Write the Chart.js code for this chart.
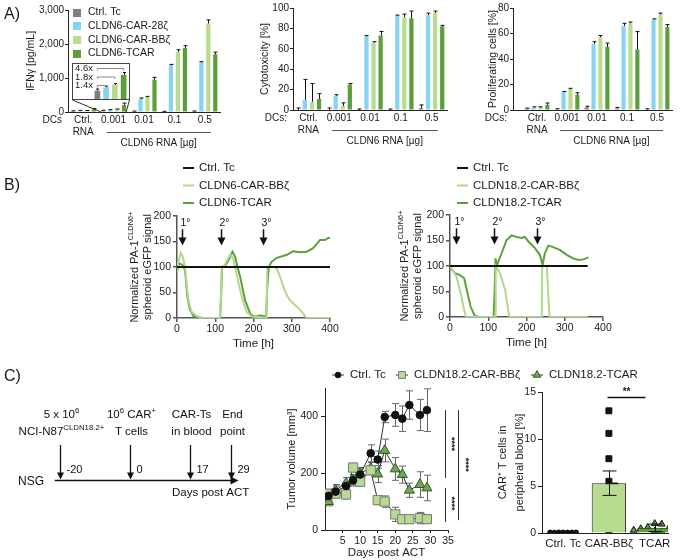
<!DOCTYPE html>
<html>
<head>
<meta charset="utf-8">
<title>CLDN6 / CLDN18.2 CAR-T figure</title>
<script src="https://cdn.jsdelivr.net/npm/chart.js@4.4.1/dist/chart.umd.min.js"></script>
<style>
  body { margin: 0; background: #fff; }
  #fig { position: relative; width: 680px; height: 560px; overflow: hidden;
         font-family: "Liberation Sans", Arial, sans-serif; color: #1a1a1a; }
  #fig canvas { position: absolute; }
  .tag { position: absolute; font-size: 16px; line-height: 18px; }
</style>
</head>
<body>
<div id="fig">
  <canvas id="ifn" width="225" height="150" style="left:0;top:0"></canvas>
  <canvas id="cyto" width="220" height="150" style="left:230px;top:0"></canvas>
  <canvas id="prolif" width="230" height="150" style="left:450px;top:0"></canvas>
  <canvas id="inset" width="58" height="37"></canvas>
  <canvas id="kinL" width="240" height="200" style="left:100px;top:160px"></canvas>
  <canvas id="kinR" width="250" height="200" style="left:370px;top:160px"></canvas>
  <canvas id="scheme" width="260" height="140" style="left:0;top:380px"></canvas>
  <canvas id="tumor" width="370" height="195" style="left:270px;top:365px"></canvas>
  <canvas id="blood" width="200" height="180" style="left:480px;top:380px"></canvas>
  <div class="tag" style="left:4px;top:5px">A)</div>
  <div class="tag" style="left:4px;top:176px">B)</div>
  <div class="tag" style="left:4px;top:367px">C)</div>
</div>
<script>
// ---------- A) activation read-outs ----------
const doseLabels = [['Ctrl.', 'RNA'], '0.001', '0.01', '0.1', '0.5'];
const carNames = ['Ctrl. Tc', 'CLDN6-CAR-28ζ', 'CLDN6-CAR-BBζ', 'CLDN6-TCAR'];
const carColors = ['#7f7f7f', '#86d3f3', '#b8dc8f', '#5c9e3c'];

// one row per series, one column per dose
const ifnMean = [
  [25, 45, 20, 15, 20],
  [40, 62, 380, 1370, 1460],
  [35, 81, 430, 1760, 2600],
  [80, 207, 950, 1880, 1700]
];
const ifnErr = [
  [10, 8, 8, 5, 10],
  [10, 8, 30, 30, 20],
  [10, 8, 30, 70, 110],
  [20, 55, 70, 70, 60]
];
const ifnTicks = [0, 1000, 2000, 3000];

const cytoMean = [
  [0, 0, 0, 0, 2],
  [10, 14, 72, 92, 93],
  [8, 4, 66, 91, 95],
  [11, 25, 73, 90, 82]
];
const cytoErr = [
  [2, 2, 1, 1, 3],
  [20, 1, 1, 1, 2],
  [18, 3, 1, 3, 2],
  [5, 1, 4, 7, 1]
];
const cytoTicks = [0, 20, 40, 60, 80, 100];

const prolifMean = [
  [1, 0.5, 2, 1, 0.5],
  [2, 14, 52, 66, 71],
  [2, 16.5, 57, 68, 75],
  [4, 12, 49.5, 47.5, 65]
];
const prolifErr = [
  [0.5, 0.5, 1, 1, 0.5],
  [0.5, 0.5, 1.5, 2, 0.5],
  [0.5, 0.5, 1.5, 1, 1],
  [1.5, 1.5, 3, 14, 2]
];
const prolifTicks = [0, 20, 40, 60, 80];

// ---------- B) spheroid killing kinetics ----------
const kinTicksX = [0, 100, 200, 300, 400];
const kinTicksY = [0, 50, 100, 150, 200];
const stimLabels = ['1°', '2°', '3°'];
const stimLeft = [12, 115, 226];
const stimRight = [15, 115, 227];

const l6TcT = [0, 400];
const l6TcV = [100, 100];
const l6BbT = [0, 4, 10, 15, 21, 26, 30, 38, 51, 69, 112, 115, 117, 125, 132, 139, 147, 156, 165, 174, 182, 195, 234, 236, 250, 260, 270, 278, 287, 295, 305, 313, 322, 339, 400];
const l6BbV = [88, 110, 128, 120, 100, 60, 35, 12, 4, 0, 0, 40, 100, 104, 115, 124, 117, 85, 55, 30, 12, 3, 0, 100, 101, 98, 80, 61, 45, 35, 28, 22, 16, 0, 0];
const l6TcarT = [0, 6, 15, 21, 27, 34, 43, 56, 113, 116, 118, 125, 132, 139, 145, 152, 158, 165, 178, 191, 200, 210, 217, 226, 233, 236, 240, 247, 261, 275, 287, 304, 322, 339, 356, 365, 374, 387, 395, 400];
const l6TcarV = [91, 107, 104, 94, 42, 16, 4, 0, 0, 60, 100, 102, 110, 120, 130, 120, 100, 81, 35, 9, 3, 4, 5, 4, 3, 60, 100, 110, 118, 121, 124, 131, 129, 130, 137, 145, 153, 153, 157, 157];

const r18TcT = [0, 360];
const r18TcV = [100, 100];
const r18BbT = [0, 9, 17, 28, 37, 42, 118, 119, 120, 131, 144, 155, 240, 241, 253, 260, 360];
const r18BbV = [100, 89, 79, 46, 14, 0, 0, 50, 100, 86, 53, 0, 0, 100, 100, 0, 0];
const r18TcarT = [0, 13, 26, 37, 44, 54, 65, 78, 114, 117, 119, 122, 128, 135, 148, 161, 174, 187, 196, 205, 222, 235, 242, 248, 257, 270, 288, 305, 322, 336, 349, 362];
const r18TcarV = [97, 86, 82, 76, 53, 20, 2, 0, 0, 60, 115, 100, 112, 125, 151, 160, 157, 155, 157, 148, 135, 122, 102, 125, 140, 137, 131, 122, 115, 112, 113, 117];

// ---------- C) in vivo ----------
const schemeDays = [-20, 0, 17, 29];
const schemeStart = -21.5, schemeEnd = 31;
const schemeText = [
  [[['5 x 10', 0], ['6', 1]], [['NCI-N87', 0], ['CLDN18.2+', 1]]],
  [[['10', 0], ['6', 1], [' CAR', 0], ['+', 1]], [['T cells', 0]]],
  [[['CAR-Ts', 0]], [['in blood', 0]]],
  [[['End', 0]], [['point', 0]]]
];

const tumorDays = [1, 3, 6, 8, 10, 13, 15, 17, 20, 22, 24, 27, 29];
const tcMean = [120, 135, 155, 175, 195, 270, 248, 398, 405, 392, 440, 405, 422];
const tcSem = [15, 20, 15, 15, 20, 30, 30, 20, 40, 45, 50, 55, 75];
const bbMean = [128, 128, 125, 220, 170, 210, 105, 100, 55, 38, 38, 42, 38];
const bbSem = [15, 15, 15, 15, 15, 15, 15, 20, 25, 15, 15, 20, 15];
const tcarMean = [100, 140, 165, 175, 200, 218, 197, 280, 215, 195, 140, 160, 148];
const tcarSem = [15, 20, 20, 20, 20, 20, 30, 40, 40, 30, 25, 45, 45];
const tumorTicksX = [5, 10, 15, 20, 25, 30, 35];
const tumorTicksY = [0, 200, 400];

const bloodCats = ['Ctrl. Tc', 'CAR-BBζ', 'TCAR'];
const bloodMean = [0.05, 5.3, 0.55];
const bloodSem = [0.01, 1.3, 0.4];
const bloodCtrl = [0.05, 0.04, 0.06, 0.05, 0.03, 0.05, 0.06];
const bloodBb = [13.0, 10.6, 7.9, 5.5, 5.0, 3.4, 2.4, 1.6, 0.1];
const bloodTcar = [1.0, 0.95, 0.6, 0.5, 0.45, 0.4, 0.3, 0.2, 0.1];
const bloodTicks = [0, 5, 10, 15];

// ---------- shared helpers ----------
const FONT = '"Liberation Sans", Arial, sans-serif';
const INK = '#1a1a1a';
const AXIS = '#222';
const AXIS_B = '#555';
const LGREEN = '#b3d88b', DGREEN = '#5d9f3d';

Chart.defaults.font.family = FONT;
Chart.defaults.font.size = 10;
Chart.defaults.color = INK;
Chart.defaults.plugins.legend.display = false;
Chart.defaults.plugins.tooltip.enabled = false;

function baseOptions(extra) {
  return Object.assign({responsive: false, devicePixelRatio: 1, animation: false, events: []}, extra);
}

function richText(ctx, parts, x, y, size, align) {
  let w = 0;
  parts.forEach(([t, sup]) => {
    ctx.font = (sup ? size * 0.68 : size) + 'px ' + FONT;
    w += ctx.measureText(t).width;
  });
  let cx = align === 'center' ? x - w / 2 : align === 'right' ? x - w : x;
  ctx.textAlign = 'left';
  ctx.textBaseline = 'middle';
  parts.forEach(([t, sup]) => {
    ctx.font = (sup ? size * 0.68 : size) + 'px ' + FONT;
    ctx.fillText(t, cx, sup ? y - size * 0.38 : y);
    cx += ctx.measureText(t).width;
  });
}

function marker(ctx, style, x, y, r, fill, stroke) {
  ctx.beginPath();
  if (style === 'circle') ctx.arc(x, y, r, 0, Math.PI * 2);
  else if (style === 'rect') { const h = r * Math.SQRT1_2; ctx.rect(x - h, y - h, 2 * h, 2 * h); }
  else { ctx.moveTo(x, y - r); ctx.lineTo(x + r * 0.866, y + r * 0.5); ctx.lineTo(x - r * 0.866, y + r * 0.5); ctx.closePath(); }
  ctx.fillStyle = fill; ctx.fill();
  ctx.strokeStyle = stroke; ctx.lineWidth = 1; ctx.stroke();
}

const errorBars = {
  id: 'errorBars',
  draw(chart, o) {
    const {ctx} = chart;
    const ys = chart.scales.y;
    ctx.save();
    ctx.strokeStyle = o.color || '#111';
    ctx.lineWidth = 1;
    o.errs.forEach((errs, di) => {
      if (!errs) return;
      const meta = chart.getDatasetMeta(di);
      meta.data.forEach((el, i) => {
        const raw = chart.data.datasets[di].data[i];
        const v = typeof raw === 'object' ? raw.y : raw;
        const x = Math.round(el.x) + 0.5;
        const top = ys.getPixelForValue(v + errs[i]);
        const bot = o.both ? ys.getPixelForValue(v - errs[i]) : ys.getPixelForValue(v);
        ctx.beginPath();
        ctx.moveTo(x, bot); ctx.lineTo(x, top);
        ctx.moveTo(x - o.cap, top); ctx.lineTo(x + o.cap, top);
        if (o.both) { ctx.moveTo(x - o.cap, bot); ctx.lineTo(x + o.cap, bot); }
        ctx.stroke();
      });
    });
    ctx.restore();
  },
  beforeDatasetsDraw(chart, args, o) { if (o.errs && o.under) this.draw(chart, o); },
  afterDatasetsDraw(chart, args, o) { if (o.errs && !o.under) this.draw(chart, o); }
};

// DCs label, bracket and "CLDN6 RNA [µg]" under the dose groups
const doseNote = {
  id: 'doseNote',
  afterDraw(chart, args, o) {
    const {ctx, chartArea: a, scales: {x}} = chart;
    ctx.save();
    ctx.font = '10px ' + FONT;
    ctx.fillStyle = INK;
    ctx.textBaseline = 'middle';
    ctx.textAlign = 'right';
    ctx.fillText(o.dcs, a.left - 6, a.bottom + 8);
    const y = Math.round(a.bottom + 20) + 0.5;
    ctx.strokeStyle = '#555';
    ctx.lineWidth = 1;
    ctx.beginPath();
    ctx.moveTo(x.getPixelForValue(0.77), y);
    ctx.lineTo(x.getPixelForValue(4.2), y);
    ctx.stroke();
    ctx.textAlign = 'center';
    ctx.fillText('CLDN6 RNA [µg]', x.getPixelForValue(2.48), y + 11);
    ctx.restore();
  }
};

const swatchLegend = {
  id: 'swatchLegend',
  afterDraw(chart, args, o) {
    const {ctx} = chart;
    ctx.save();
    ctx.font = '10.5px ' + FONT;
    ctx.textBaseline = 'middle';
    ctx.textAlign = 'left';
    chart.data.datasets.forEach((ds, i) => {
      const y = o.y + i * o.step;
      ctx.fillStyle = ds.backgroundColor;
      ctx.fillRect(o.x, Math.round(y - 4), 8, 8);
      ctx.fillStyle = INK;
      ctx.fillText(ds.label, o.x + 15, y);
    });
    ctx.restore();
  }
};

const insetBox = {left: 72, top: 63, w: 58, h: 37};

const insetLink = {
  id: 'insetLink',
  afterDraw(chart, args, o) {
    const {ctx, scales: {y}} = chart;
    const g = chart.getDatasetMeta(0).data[o.index];
    const d = chart.getDatasetMeta(3).data[o.index];
    const y0 = y.getPixelForValue(0);
    ctx.save();
    ctx.strokeStyle = '#333';
    ctx.lineWidth = 1;
    ctx.beginPath();
    ctx.moveTo(insetBox.left + 0.5, insetBox.top + insetBox.h);
    ctx.lineTo(g.x - g.width / 2, y0);
    ctx.moveTo(insetBox.left + insetBox.w - 0.5, insetBox.top + insetBox.h);
    ctx.lineTo(d.x + d.width / 2, y0);
    ctx.stroke();
    ctx.restore();
  }
};

function dosePanel(id, o) {
  return new Chart(document.getElementById(id), {
    type: 'bar',
    data: {
      datasets: carNames.map((name, s) => ({
        label: name,
        data: o.mean[s].map((v, i) => ({x: i, y: v})),
        backgroundColor: carColors[s],
        categoryPercentage: 0.92,
        barPercentage: 0.6
      }))
    },
    options: baseOptions({
      layout: {padding: {left: 0, top: o.top, right: o.right, bottom: 0}},
      scales: {
        x: {
          type: 'linear', offset: false, min: o.xMin, max: 4.5,
          afterBuildTicks: s => { s.ticks = doseLabels.map((_, i) => ({value: i})); },
          afterFit: s => { s.height = o.xh; },
          grid: {display: false, drawTicks: false, offset: false},
          border: {color: AXIS, width: 1},
          ticks: {callback: (v, i) => doseLabels[i], padding: 2, maxRotation: 0, autoSkip: false, font: {size: 10}}
        },
        y: {
          min: 0, max: o.ticks[o.ticks.length - 1],
          afterBuildTicks: s => { s.ticks = o.ticks.map(v => ({value: v})); },
          afterFit: s => { s.width = o.yw; },
          grid: {drawOnChartArea: false, tickLength: 3, color: AXIS},
          border: {color: AXIS},
          ticks: {padding: 1, font: {size: 10}},
          title: {display: true, text: o.title, font: {size: 10.5}, padding: {top: o.titlePad}}
        }
      },
      plugins: Object.assign({errorBars: {errs: o.err, cap: 2}, doseNote: {dcs: o.dcs}}, o.plugOpts || {})
    }),
    plugins: [errorBars, doseNote].concat(o.extra || [])
  });
}

// ---------- A) charts ----------
dosePanel('ifn', {
  mean: ifnMean, err: ifnErr, ticks: ifnTicks, title: 'IFNγ [pg/mL]', titlePad: 25,
  top: 10, right: 5, xh: 38, yw: 68, xMin: -0.5, dcs: 'DCs',
  plugOpts: {swatchLegend: {x: 73, y: 12.5, step: 13.7}, insetLink: {index: 1}},
  extra: [swatchLegend, insetLink]
});
dosePanel('cyto', {
  mean: cytoMean, err: cytoErr, ticks: cytoTicks, title: 'Cytotoxicity [%]', titlePad: 29,
  top: 8, right: 3, xh: 40, yw: 63, xMin: -0.5, dcs: 'DCs:'
});
dosePanel('prolif', {
  mean: prolifMean, err: prolifErr, ticks: prolifTicks, title: 'Proliferating cells [%]', titlePad: 37,
  top: 8, right: 8, xh: 40, yw: 63, xMin: -0.8, dcs: 'DCs:'
});

// inset: the 0.001 µg group on a log axis, with fold changes over Ctrl. Tc
const insetFrame = {
  id: 'insetFrame',
  afterDraw(chart) {
    const {ctx} = chart;
    ctx.save();
    ctx.strokeStyle = '#444';
    ctx.lineWidth = 1;
    ctx.strokeRect(0.5, 0.5, chart.width - 1, chart.height - 1);
    const base = chart.getDatasetMeta(0).data[0];
    const ref = chart.data.datasets[0].data[0];
    ctx.font = '9.5px ' + FONT;
    ctx.textBaseline = 'middle';
    ctx.textAlign = 'left';
    [3, 2, 1].forEach((s, k) => {
      const el = chart.getDatasetMeta(s).data[0];
      const y = 5.5 + k * 8.5;
      ctx.strokeStyle = '#888';
      ctx.beginPath();
      ctx.moveTo(base.x, y + 2); ctx.lineTo(base.x, y); ctx.lineTo(el.x, y); ctx.lineTo(el.x, y + 2);
      ctx.stroke();
      ctx.fillStyle = INK;
      ctx.fillText((chart.data.datasets[s].data[0] / ref).toFixed(1) + 'x', 3, y);
    });
    ctx.restore();
  }
};
const insetEl = document.getElementById('inset');
insetEl.style.left = insetBox.left + 'px';
insetEl.style.top = insetBox.top + 'px';
new Chart(insetEl, {
  type: 'bar',
  data: {
    labels: [doseLabels[1]],
    datasets: carNames.map((name, s) => ({
      label: name, data: [ifnMean[s][1]], backgroundColor: carColors[s],
      categoryPercentage: 1, barPercentage: 0.65
    }))
  },
  options: baseOptions({
    layout: {padding: {left: 21, right: 2, top: 1, bottom: 1}},
    scales: {x: {display: false}, y: {type: 'logarithmic', min: 20, max: 600, display: false}},
    plugins: {errorBars: {errs: carNames.map((_, s) => [ifnErr[s][1]]), cap: 1.5}}
  }),
  plugins: [errorBars, insetFrame]
});

// ---------- B) charts ----------
const stimArrows = {
  id: 'stimArrows',
  afterDraw(chart, args, o) {
    const {ctx, scales: {x, y}} = chart;
    ctx.save();
    ctx.fillStyle = ctx.strokeStyle = '#111';
    ctx.lineWidth = 1.5;
    ctx.font = '10.5px ' + FONT;
    ctx.textAlign = 'center';
    ctx.textBaseline = 'middle';
    o.times.forEach((t, i) => {
      const px = Math.round(x.getPixelForValue(t)) + 0.5;
      const y0 = y.getPixelForValue(174), y1 = y.getPixelForValue(142);
      ctx.fillText(stimLabels[i], px + 3, y.getPixelForValue(187));
      ctx.beginPath(); ctx.moveTo(px, y0); ctx.lineTo(px, y1 - 5); ctx.stroke();
      ctx.beginPath(); ctx.moveTo(px - 4, y1 - 8); ctx.lineTo(px + 4, y1 - 8); ctx.lineTo(px, y1); ctx.closePath(); ctx.fill();
    });
    ctx.restore();
  }
};

const lineLegend = {
  id: 'lineLegend',
  afterDraw(chart, args, o) {
    const {ctx} = chart;
    ctx.save();
    ctx.font = '11.5px ' + FONT;
    ctx.textBaseline = 'middle';
    ctx.textAlign = 'left';
    chart.data.datasets.forEach((ds, i) => {
      const y = o.y + i * o.step;
      ctx.strokeStyle = ds.borderColor;
      ctx.lineWidth = 2;
      ctx.beginPath(); ctx.moveTo(o.x, y); ctx.lineTo(o.x + 11, y); ctx.stroke();
      ctx.fillStyle = INK;
      ctx.fillText(ds.label, o.x + 16, y);
    });
    ctx.restore();
  }
};

const kinYTitle = [
  [['Normalized PA-1', 0], ['CLDN6+', 1]],
  [['spheroid eGFP signal', 0]]
];

const richYTitle = {
  id: 'richYTitle',
  afterDraw(chart, args, o) {
    const {ctx, chartArea: a} = chart;
    const cy = (a.top + a.bottom) / 2;
    ctx.save();
    ctx.fillStyle = INK;
    o.lines.forEach((parts, i) => {
      ctx.save();
      ctx.translate(o.x + i * o.lh, cy);
      ctx.rotate(-Math.PI / 2);
      richText(ctx, parts, 0, 0, o.size, 'center');
      ctx.restore();
    });
    ctx.restore();
  }
};

function kineticsPanel(id, series, stims, L) {
  return new Chart(document.getElementById(id), {
    type: 'line',
    data: {
      datasets: series.map(s => ({
        label: s.name,
        data: s.t.map((t, i) => ({x: t, y: s.v[i]})),
        borderColor: s.color, borderWidth: 2, pointRadius: 0, tension: 0, fill: false
      }))
    },
    options: baseOptions({
      layout: {padding: {left: 0, top: L.top, right: L.right, bottom: 0}},
      scales: {
        x: {
          type: 'linear', min: 0, max: 400,
          afterBuildTicks: s => { s.ticks = kinTicksX.map(v => ({value: v})); },
          afterFit: s => { s.height = L.xh; },
          grid: {drawOnChartArea: false, tickLength: 4, color: AXIS_B, lineWidth: 1.5},
          border: {color: AXIS_B, width: 1.5},
          ticks: {padding: 1, maxRotation: 0, font: {size: 10.5}},
          title: {display: true, text: 'Time [h]', font: {size: 11.5}, padding: {bottom: L.titlePad}}
        },
        y: {
          min: 0, max: 200,
          afterBuildTicks: s => { s.ticks = kinTicksY.map(v => ({value: v})); },
          afterFit: s => { s.width = L.yw; },
          grid: {drawOnChartArea: false, tickLength: 4, color: AXIS_B, lineWidth: 1.5},
          border: {color: AXIS_B, width: 1.5},
          ticks: {padding: 2, font: {size: 10.5}}
        }
      },
      plugins: {
        stimArrows: {times: stims},
        lineLegend: {x: L.legX, y: 8, step: 17.5},
        richYTitle: {x: L.titleX, lh: 13, size: 11, lines: kinYTitle}
      }
    }),
    plugins: [stimArrows, lineLegend, richYTitle]
  });
}

kineticsPanel('kinL', [
  {name: 'Ctrl. Tc', t: l6TcT, v: l6TcV, color: '#111'},
  {name: 'CLDN6-CAR-BBζ', t: l6BbT, v: l6BbV, color: LGREEN},
  {name: 'CLDN6-TCAR', t: l6TcarT, v: l6TcarV, color: DGREEN}
], stimLeft, {top: 56, right: 10, xh: 42, yw: 77, titlePad: 9, legX: 83, titleX: 35});

kineticsPanel('kinR', [
  {name: 'Ctrl. Tc', t: r18TcT, v: r18TcV, color: '#111'},
  {name: 'CLDN18.2-CAR-BBζ', t: r18BbT, v: r18BbV, color: LGREEN},
  {name: 'CLDN18.2-TCAR', t: r18TcarT, v: r18TcarV, color: DGREEN}
], stimRight, {top: 55, right: 17, xh: 43, yw: 80, titlePad: 10, legX: 87, titleX: 35});

// ---------- C) treatment scheme ----------
const schemeDraw = {
  id: 'schemeDraw',
  afterDraw(chart) {
    const {ctx, scales: {x}} = chart;
    const lineY = 100.5;
    ctx.save();
    ctx.strokeStyle = ctx.fillStyle = '#111';
    ctx.lineWidth = 1.6;
    const xa = x.getPixelForValue(schemeStart), xb = x.getPixelForValue(schemeEnd);
    ctx.beginPath(); ctx.moveTo(xa, lineY); ctx.lineTo(xb - 5, lineY); ctx.stroke();
    ctx.beginPath(); ctx.moveTo(xb, lineY); ctx.lineTo(xb - 8, lineY - 4); ctx.lineTo(xb - 8, lineY + 4); ctx.closePath(); ctx.fill();
    schemeDays.forEach((d, i) => {
      const px = Math.round(x.getPixelForValue(d)) + 0.5;
      ctx.lineWidth = 1.3;
      ctx.beginPath(); ctx.moveTo(px, 65); ctx.lineTo(px, lineY - 6); ctx.stroke();
      ctx.beginPath(); ctx.moveTo(px - 3.5, lineY - 8); ctx.lineTo(px + 3.5, lineY - 8); ctx.lineTo(px, lineY - 1); ctx.closePath(); ctx.fill();
      ctx.font = '11px ' + FONT;
      ctx.textAlign = 'left';
      ctx.textBaseline = 'middle';
      ctx.fillText(String(d), px + 6, 90);
      schemeText[i].forEach((parts, k) => richText(ctx, parts, px + 1, 35 + k * 17, 11.5, 'center'));
    });
    ctx.font = '12px ' + FONT;
    ctx.textAlign = 'right';
    ctx.textBaseline = 'middle';
    ctx.fillText('NSG', 44, 102);
    ctx.font = '11.5px ' + FONT;
    ctx.textAlign = 'left';
    ctx.fillText('Days post ACT', 172, 113);
    ctx.restore();
  }
};

new Chart(document.getElementById('scheme'), {
  type: 'scatter',
  data: {datasets: [{data: schemeDays.map(d => ({x: d, y: 0})), pointRadius: 0}]},
  options: baseOptions({
    layout: {padding: 0},
    scales: {
      x: {type: 'linear', min: -130 / 3.5, max: 130 / 3.5, display: false},
      y: {min: 0, max: 1, display: false}
    }
  }),
  plugins: [schemeDraw]
});

// ---------- C) tumor growth ----------
const tumorSeries = [
  {name: 'Ctrl. Tc', mean: tcMean, sem: tcSem, style: 'circle', r: 3.8, fill: '#111', stroke: '#111'},
  {name: 'CLDN18.2-CAR-BBζ', mean: bbMean, sem: bbSem, style: 'rect', r: 6.5, fill: '#b9da93', stroke: '#7a7a7a'},
  {name: 'CLDN18.2-TCAR', mean: tcarMean, sem: tcarSem, style: 'triangle', r: 5.8, fill: '#6ea84f', stroke: '#2f5a22'}
];

const markerLegend = {
  id: 'markerLegend',
  afterDraw(chart, args, o) {
    const {ctx} = chart;
    ctx.save();
    ctx.font = '11.5px ' + FONT;
    ctx.textBaseline = 'middle';
    ctx.textAlign = 'left';
    tumorSeries.forEach((s, i) => {
      const mx = o.xs[i];
      ctx.strokeStyle = '#333'; ctx.lineWidth = 1;
      ctx.beginPath(); ctx.moveTo(mx - 6, o.y); ctx.lineTo(mx + 6, o.y); ctx.stroke();
      marker(ctx, s.style, mx, o.y, s.r * 0.75, s.fill, s.stroke);
      ctx.fillStyle = INK;
      ctx.fillText(s.name, mx + 12, o.y);
    });
    ctx.restore();
  }
};

const sigTumor = {
  id: 'sigTumor',
  afterDraw(chart) {
    const {ctx, chartArea: a, scales: {y}} = chart;
    const last = arr => arr[arr.length - 1];
    const pTc = y.getPixelForValue(last(tcMean));
    const pBb = y.getPixelForValue(last(bbMean));
    const pT = y.getPixelForValue(last(tcarMean));
    const x1 = Math.round(a.right - 3) + 0.5, x2 = Math.round(a.right + 10) + 0.5;
    ctx.save();
    ctx.strokeStyle = '#333';
    ctx.lineWidth = 1;
    ctx.beginPath();
    ctx.moveTo(x1, pTc); ctx.lineTo(x1, pT - 10);
    ctx.moveTo(x1, pT); ctx.lineTo(x1, pBb + 3);
    ctx.moveTo(x2, pTc); ctx.lineTo(x2, pBb + 1);
    ctx.stroke();
    ctx.fillStyle = INK;
    ctx.font = 'bold 9px ' + FONT;
    ctx.textAlign = 'center';
    ctx.textBaseline = 'middle';
    [[x1 + 6, (pTc + pT - 10) / 2], [x2 + 7, (pTc + pBb) / 2], [x1 + 6, (pT + pBb) / 2]].forEach(([sx, sy]) => {
      ctx.save(); ctx.translate(sx, sy); ctx.rotate(Math.PI / 2); ctx.fillText('****', 0, 0); ctx.restore();
    });
    ctx.restore();
  }
};

new Chart(document.getElementById('tumor'), {
  type: 'line',
  data: {
    datasets: tumorSeries.map(s => ({
      label: s.name,
      data: tumorDays.map((d, i) => ({x: d, y: s.mean[i]})),
      borderColor: '#333', borderWidth: 1, tension: 0,
      pointStyle: s.style, pointRadius: s.r, pointBackgroundColor: s.fill, pointBorderColor: s.stroke, pointBorderWidth: 1
    }))
  },
  options: baseOptions({
    layout: {padding: {left: 0, top: 23, right: 192, bottom: 0}},
    scales: {
      x: {
        type: 'linear', min: 0, max: 35,
        afterBuildTicks: s => { s.ticks = tumorTicksX.map(v => ({value: v})); },
        afterFit: s => { s.height = 30; },
        grid: {drawOnChartArea: false, tickLength: 3, color: AXIS},
        border: {color: AXIS},
        ticks: {padding: 2, maxRotation: 0, font: {size: 10.5}},
        title: {display: true, text: 'Days post ACT', font: {size: 11.5}, padding: {bottom: 0}}
      },
      y: {
        min: 0, max: 500,
        afterBuildTicks: s => { s.ticks = tumorTicksY.map(v => ({value: v})); },
        afterFit: s => { s.width = 55; },
        grid: {drawOnChartArea: false, tickLength: 4, color: AXIS},
        border: {color: AXIS},
        ticks: {padding: 3, font: {size: 10.5}},
        title: {display: true, text: 'Tumor volume [mm³]', font: {size: 11}, padding: {top: 15}}
      }
    },
    plugins: {
      errorBars: {errs: tumorSeries.map(s => s.sem), both: true, under: true, cap: 3.5, color: '#666'},
      markerLegend: {xs: [68, 132, 267], y: 10}
    }
  }),
  plugins: [errorBars, markerLegend, sigTumor]
});

// ---------- C) CAR+ T cells in blood ----------
function swarm(values, center, sep, pxX, pxY) {
  const placed = [];
  return values.map(v => {
    const py = v * pxY;
    let off = 0;
    for (let k = 0; k < 40; k++) {
      off = (k % 2 ? 1 : -1) * Math.ceil(k / 2) * sep;
      if (placed.every(p => Math.hypot(p.x - off, p.y - py) >= sep)) break;
    }
    placed.push({x: off, y: py});
    return {x: center + off / pxX, y: v};
  });
}

const sigBlood = {
  id: 'sigBlood',
  afterDraw(chart) {
    const {ctx, scales: {x, y}} = chart;
    const yy = Math.round(y.getPixelForValue(14.5)) + 0.5;
    const xa = x.getPixelForValue(0.97), xb = x.getPixelForValue(1.8);
    ctx.save();
    ctx.strokeStyle = '#111';
    ctx.lineWidth = 1.5;
    ctx.beginPath(); ctx.moveTo(xa, yy); ctx.lineTo(xb, yy); ctx.stroke();
    ctx.fillStyle = INK;
    ctx.font = 'bold 10px ' + FONT;
    ctx.textAlign = 'center';
    ctx.textBaseline = 'middle';
    ctx.fillText('**', (xa + xb) / 2, yy - 5);
    ctx.restore();
  }
};

const blood = new Chart(document.getElementById('blood'), {
  type: 'bar',
  data: {
    datasets: [
      {data: bloodMean.map((v, i) => ({x: i, y: v})), backgroundColor: ['#222', '#b8dc8f', '#5c9e3c'],
       borderColor: '#222', borderWidth: 1, categoryPercentage: 1, barPercentage: 0.75},
      {type: 'scatter', data: [], pointStyle: 'circle', pointRadius: 2.5, pointBackgroundColor: '#111', pointBorderColor: '#111'},
      {type: 'scatter', data: [], pointStyle: 'rect', pointRadius: 4.2, pointBackgroundColor: '#111', pointBorderColor: '#111'},
      {type: 'scatter', data: [], pointStyle: 'triangle', pointRadius: 4, pointBackgroundColor: '#5c9e3c', pointBorderColor: '#111', pointBorderWidth: 1}
    ]
  },
  options: baseOptions({
    layout: {padding: {left: 0, top: 12, right: 12, bottom: 0}},
    scales: {
      x: {
        type: 'linear', offset: false, min: -0.46, max: 2.29,
        afterBuildTicks: s => { s.ticks = bloodCats.map((_, i) => ({value: i})); },
        afterFit: s => { s.height = 27; },
        grid: {display: false, drawTicks: false, offset: false},
        border: {color: AXIS},
        ticks: {callback: (v, i) => bloodCats[i], padding: 4, maxRotation: 0, autoSkip: false, font: {size: 11.5}}
      },
      y: {
        min: 0, max: 15,
        afterBuildTicks: s => { s.ticks = bloodTicks.map(v => ({value: v})); },
        afterFit: s => { s.width = 62; },
        grid: {drawOnChartArea: false, tickLength: 4, color: AXIS},
        border: {color: AXIS},
        ticks: {padding: 2, font: {size: 10.5}},
        title: {display: true, text: ['CAR⁺ T cells in', 'peripheral blood [%]'], font: {size: 11, lineHeight: 1.5}, padding: {top: 15}}
      }
    },
    plugins: {errorBars: {errs: [bloodSem], both: true, cap: 7, color: '#111'}}
  }),
  plugins: [errorBars, sigBlood]
});

const bx = blood.scales.x, by = blood.scales.y;
const pxX = bx.getPixelForValue(1) - bx.getPixelForValue(0);
const pxY = by.getPixelForValue(0) - by.getPixelForValue(1);
blood.data.datasets[1].data = swarm(bloodCtrl, 0, 4.3, pxX, pxY);
blood.data.datasets[2].data = swarm(bloodBb, 1, 6, pxX, pxY);
blood.data.datasets[3].data = swarm(bloodTcar, 2, 7, pxX, pxY);
blood.update();
</script>
</body>
</html>
